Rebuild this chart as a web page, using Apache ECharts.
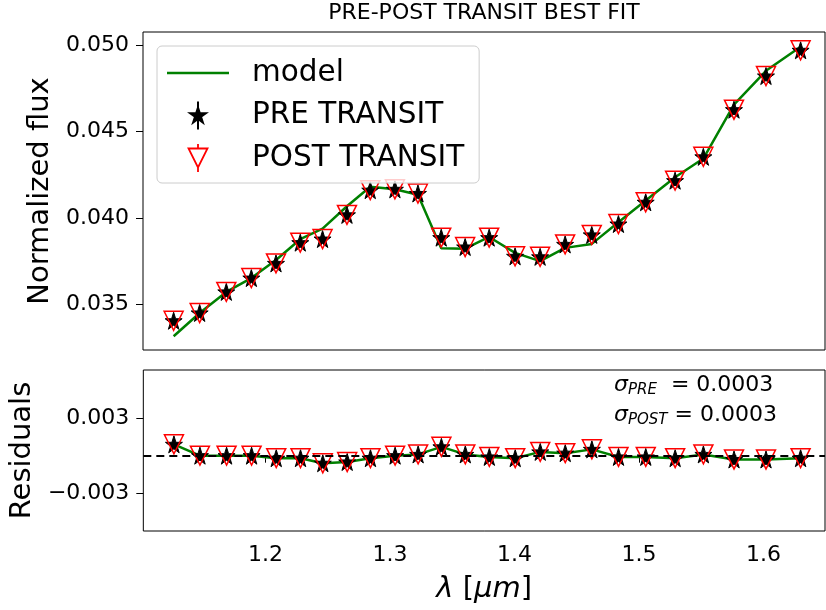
<!DOCTYPE html>
<html>
<head>
<meta charset="utf-8">
<script src="https://cdn.jsdelivr.net/npm/echarts@6/dist/echarts.min.js"></script>
<style>
  html, body { margin: 0; padding: 0; background: #ffffff; }
  #chart { width: 826px; height: 610px; }
</style>
</head>
<body>
<div id="chart"></div>
<script>
// Spectral bins (micron)
const wavelength = [1.1264, 1.1473, 1.1687, 1.1888, 1.2086, 1.2281, 1.2460, 1.2656, 1.2843, 1.3041,
                    1.3226, 1.3413, 1.3605, 1.3798, 1.4006, 1.4207, 1.4408, 1.4622, 1.4836, 1.5055,
                    1.5291, 1.5518, 1.5764, 1.6021, 1.6299];

// Normalized flux per bin
const preFlux  = [0.03405, 0.03450, 0.03572, 0.03652, 0.03737, 0.03857, 0.03878, 0.04018, 0.04161, 0.04166,
                  0.04142, 0.03886, 0.03832, 0.03886, 0.03778, 0.03775, 0.03847, 0.03902, 0.03965, 0.04091,
                  0.04216, 0.04354, 0.04627, 0.04822, 0.04971];
const postFlux = [0.03405, 0.03450, 0.03572, 0.03652, 0.03737, 0.03857, 0.03878, 0.04018, 0.04161, 0.04166,
                  0.04142, 0.03886, 0.03832, 0.03886, 0.03778, 0.03775, 0.03847, 0.03902, 0.03965, 0.04091,
                  0.04216, 0.04354, 0.04627, 0.04822, 0.04971];
const modelFlux = [0.03315, 0.03450, 0.03572, 0.03652, 0.03757, 0.03877, 0.03938, 0.04068, 0.04181, 0.04166,
                   0.04135, 0.03825, 0.03822, 0.03890, 0.03798, 0.03750, 0.03827, 0.03850, 0.03975, 0.04101,
                   0.04236, 0.04344, 0.04657, 0.04852, 0.04991];

// Residuals (data - model)
const preResidual  = [0.0009, 0.0000, 0.0000, 0.0000, -0.0002, -0.0002, -0.0006, -0.0005, -0.0002, 0.0000,
                      0.0001, 0.0007, 0.0001, -0.0001, -0.0002, 0.0003, 0.0002, 0.0005, -0.0001, -0.0001,
                      -0.0002, 0.0001, -0.0003, -0.0003, -0.0002];
const postResidual = [0.0009, 0.0000, 0.0000, 0.0000, -0.0002, -0.0002, -0.0006, -0.0005, -0.0002, 0.0000,
                      0.0001, 0.0007, 0.0001, -0.0001, -0.0002, 0.0003, 0.0002, 0.0005, -0.0001, -0.0001,
                      -0.0002, 0.0001, -0.0003, -0.0003, -0.0002];

// Tick values
const wavelengthTicks = [1.2, 1.3, 1.4, 1.5, 1.6];
const fluxTicks = [0.035, 0.040, 0.045, 0.050];
const residualTicks = [-0.003, 0.003];

const sigmaPre = '0.0003';
const sigmaPost = '0.0003';

const FONT = 'DejaVu Sans';
const GREEN = '#008000';
const RED = '#ff0000';

// Marker shapes
const starPath = 'path://M100,0 L122.45,69.1 L195.11,69.1 L136.33,111.8 L158.78,180.9 L100,138.2 L41.22,180.9 L63.67,111.8 L4.89,69.1 L77.55,69.1 Z';
const triDownPath = 'path://M0,0 L20,0 L10,20 Z';
// Legend icons: a plain line for the model, markers with a vertical error bar through them
const lineIcon = 'path://M0,0 L620,0 L620,25 L0,25 Z';
const starBarIcon = 'path://M140,0 L140,280 M140,60 L158.7,117.5 L219.2,117.5 L170.3,153.1 L189,210.6 L140,175 L91,210.6 L109.7,153.1 L60.8,117.5 L121.3,117.5 Z';
const triBarIcon = 'path://M45,45 L235,45 L140,235 Z M140,0 L140,45 M140,235 L140,280';

const pairs = (ys) => wavelength.map((w, i) => [w, ys[i]]);

const chart = echarts.init(document.getElementById('chart'), null, { renderer: 'canvas' });

const tickLabelStyle = { fontFamily: FONT, fontSize: 22, color: '#000' };

const option = {
  animation: false,
  backgroundColor: '#ffffff',
  textStyle: { fontFamily: FONT },
  grid: [
    { left: 143, top: 32, right: 1, height: 318, show: true, borderColor: '#000', borderWidth: 1, backgroundColor: 'transparent' },
    { left: 143, top: 370, right: 1, height: 161, show: true, borderColor: '#000', borderWidth: 1, backgroundColor: 'transparent' }
  ],
  xAxis: [
    {
      type: 'value', gridIndex: 0, min: 1.1018, max: 1.6495,
      axisLine: { show: false }, axisTick: { show: false }, axisLabel: { show: false }, splitLine: { show: false }
    },
    {
      type: 'value', gridIndex: 1, min: 1.1018, max: 1.6495,
      axisLine: { show: false },
      axisTick: { show: true, length: 7, lineStyle: { color: '#000', width: 1 }, customValues: wavelengthTicks },
      axisLabel: Object.assign({ margin: 13, customValues: wavelengthTicks, formatter: (v) => v.toFixed(1) }, tickLabelStyle),
      splitLine: { show: false },
      name: '{i|λ} [{i|μm}]',
      nameLocation: 'middle',
      nameGap: 44,
      nameTextStyle: {
        fontFamily: FONT, fontSize: 29, color: '#000',
        rich: { i: { fontFamily: FONT, fontSize: 29, fontStyle: 'italic', color: '#000' } }
      }
    }
  ],
  yAxis: [
    {
      type: 'value', gridIndex: 0, min: 0.032356, max: 0.050769,
      axisLine: { show: false },
      axisTick: { show: true, length: 7, lineStyle: { color: '#000', width: 1 }, customValues: fluxTicks },
      axisLabel: Object.assign({ margin: 14, customValues: fluxTicks, formatter: (v) => v.toFixed(3) }, tickLabelStyle),
      splitLine: { show: false },
      name: 'Normalized flux',
      nameLocation: 'middle',
      nameGap: 84,
      nameTextStyle: { fontFamily: FONT, fontSize: 29, color: '#000' }
    },
    {
      type: 'value', gridIndex: 1, min: -0.00597, max: 0.00679,
      axisLine: { show: false },
      axisTick: { show: true, length: 7, lineStyle: { color: '#000', width: 1 }, customValues: residualTicks },
      axisLabel: Object.assign({
        margin: 14, customValues: residualTicks,
        formatter: (v) => (v < 0 ? '\u2212' : '') + Math.abs(v).toFixed(3)
      }, tickLabelStyle),
      splitLine: { show: false },
      name: 'Residuals',
      nameLocation: 'middle',
      nameGap: 90,
      nameTextStyle: { fontFamily: FONT, fontSize: 29, color: '#000' }
    }
  ],
  legend: {
    orient: 'vertical',
    left: 157, top: 46,
    z: 10,
    itemWidth: 62, itemHeight: 28, itemGap: 12.5,
    padding: [12, 15, 10, 10],
    backgroundColor: 'rgba(255,255,255,0.8)',
    borderColor: '#cccccc', borderWidth: 1, borderRadius: 5,
    selectedMode: false,
    textStyle: { fontFamily: FONT, fontSize: 29.5, lineHeight: 28, color: '#000', padding: [0, 0, 0, 18] },
    data: [
      { name: 'model', icon: lineIcon, itemStyle: { color: GREEN, borderWidth: 0 } },
      { name: 'PRE TRANSIT', icon: starBarIcon, itemStyle: { color: '#000', borderColor: '#000', borderWidth: 2 } },
      { name: 'POST TRANSIT', icon: triBarIcon, itemStyle: { color: 'rgba(0,0,0,0)', borderColor: RED, borderWidth: 1.8 } }
    ]
  },
  graphic: [
    {
      type: 'text', x: 484, y: 13, z: 10,
      style: { text: 'PRE-POST TRANSIT BEST FIT', align: 'center', verticalAlign: 'middle',
               fontFamily: FONT, fontSize: 22, fill: '#000' }
    },
    {
      type: 'text', x: 614, y: 385, z: 10,
      style: {
        text: '{s|σ}{sub|PRE}  = ' + sigmaPre,
        verticalAlign: 'middle',
        fontFamily: FONT, fontSize: 22, fill: '#000',
        rich: {
          s: { fontFamily: FONT, fontSize: 22, fontStyle: 'italic', fill: '#000' },
          sub: { fontFamily: FONT, fontSize: 15, fontStyle: 'italic', fill: '#000', padding: [10, 0, 0, 0] }
        }
      }
    },
    {
      type: 'text', x: 614, y: 415, z: 10,
      style: {
        text: '{s|σ}{sub|POST} = ' + sigmaPost,
        verticalAlign: 'middle',
        fontFamily: FONT, fontSize: 22, fill: '#000',
        rich: {
          s: { fontFamily: FONT, fontSize: 22, fontStyle: 'italic', fill: '#000' },
          sub: { fontFamily: FONT, fontSize: 15, fontStyle: 'italic', fill: '#000', padding: [10, 0, 0, 0] }
        }
      }
    }
  ],
  series: [
    {
      name: 'model', type: 'line', xAxisIndex: 0, yAxisIndex: 0, z: 2,
      data: pairs(modelFlux), symbol: 'none',
      lineStyle: { color: GREEN, width: 2.5 }, itemStyle: { color: GREEN }
    },
    {
      name: 'PRE TRANSIT', type: 'scatter', xAxisIndex: 0, yAxisIndex: 0, z: 3,
      data: pairs(preFlux), symbol: starPath, symbolSize: 17,
      itemStyle: { color: '#000', borderColor: '#000', borderWidth: 1, opacity: 1 }
    },
    {
      name: 'POST TRANSIT', type: 'scatter', xAxisIndex: 0, yAxisIndex: 0, z: 4,
      data: pairs(postFlux), symbol: triDownPath, symbolSize: 19,
      itemStyle: { color: 'rgba(0,0,0,0)', borderColor: RED, borderWidth: 1.5, opacity: 1 }
    },
    {
      name: 'residual fit', type: 'line', xAxisIndex: 1, yAxisIndex: 1, z: 2,
      data: pairs(preResidual), symbol: 'none',
      lineStyle: { color: GREEN, width: 2.5 },
      markLine: {
        silent: true, symbol: 'none', label: { show: false },
        lineStyle: { color: '#000', type: [8, 5], width: 1.8 },
        data: [{ yAxis: 0 }]
      }
    },
    {
      name: 'PRE TRANSIT', type: 'scatter', xAxisIndex: 1, yAxisIndex: 1, z: 3,
      data: pairs(preResidual), symbol: starPath, symbolSize: 17,
      itemStyle: { color: '#000', borderColor: '#000', borderWidth: 1, opacity: 1 }
    },
    {
      name: 'POST TRANSIT', type: 'scatter', xAxisIndex: 1, yAxisIndex: 1, z: 4,
      data: pairs(postResidual), symbol: triDownPath, symbolSize: 19,
      itemStyle: { color: 'rgba(0,0,0,0)', borderColor: RED, borderWidth: 1.5, opacity: 1 }
    }
  ]
};

chart.setOption(option);
</script>
</body>
</html>
